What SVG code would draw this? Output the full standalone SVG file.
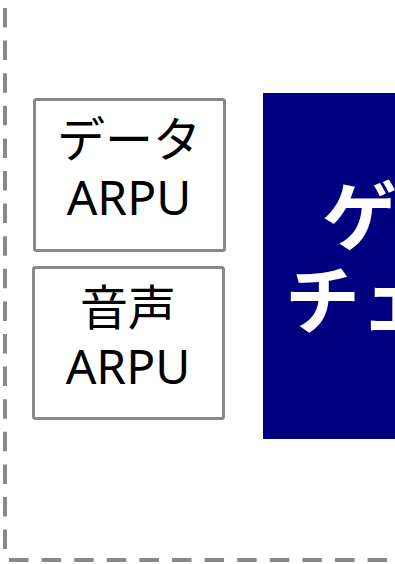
<svg xmlns="http://www.w3.org/2000/svg" width="395" height="564" viewBox="0 0 395 564">
<style>
.frame{fill:none;stroke:#888888;stroke-width:4;stroke-dasharray:19.5 13.1}
.box{fill:#ffffff;stroke:#888888;stroke-width:3}
.lbl{font-family:"Noto Sans","Noto Sans CJK JP",sans-serif;font-size:48px;font-weight:400;fill:#000000;text-anchor:middle}
.big{font-family:"Noto Sans CJK JP","Noto Sans",sans-serif;font-size:75px;font-weight:bold;fill:#ffffff}
</style>
<rect width="395" height="564" fill="#ffffff"/>
<g id="frame">
<line class="frame" x1="5" y1="8" x2="5" y2="552"/>
<line class="frame" x1="9" y1="560" x2="395" y2="560"/>
</g>
<g id="connectors"></g>
<g id="node-data-arpu">
<rect class="box" x="34.5" y="99.5" width="190" height="151" rx="2"/>
<text class="lbl"><tspan x="129" y="157">データ</tspan><tspan x="129" y="215">ARPU</tspan></text>
</g>
<g id="node-voice-arpu">
<rect class="box" x="33.5" y="267.5" width="190" height="151" rx="2"/>
<text class="lbl"><tspan x="128" y="325">音声</tspan><tspan x="128" y="384">ARPU</tspan></text>
</g>
<g id="node-main">
<rect x="263" y="93" width="200" height="346" fill="#000080"/>
<text class="big"><tspan x="322" y="244">ゲ</tspan><tspan x="285" y="328">チェ</tspan></text>
</g>
</svg>
